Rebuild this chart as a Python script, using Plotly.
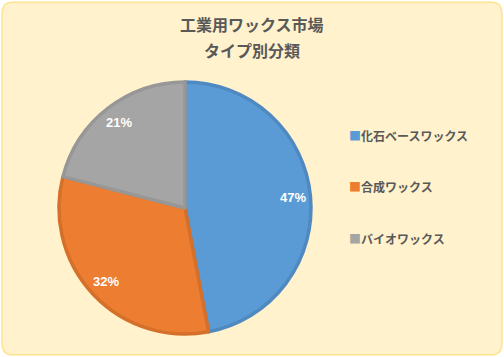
import math
import plotly.graph_objects as go

labels = ["化石ベースワックス", "合成ワックス", "バイオワックス"]
values = [47, 32, 21]
colors = ["#5B9BD5", "#ED7D31", "#A5A5A5"]
border_colors = ["#4F89C2", "#D4702A", "#979797"]
title_lines = ["工業用ワックス市場", "タイプ別分類"]

W, H = 504, 357
cx, cy, r = 185, 208, 126

fig = go.Figure(go.Pie(
    labels=labels,
    values=values,
    sort=False,
    direction="clockwise",
    rotation=0,
    marker=dict(colors=colors, line=dict(color=border_colors, width=3.5)),
    textinfo="none",
    domain=dict(x=[(cx - r) / W, (cx + r) / W], y=[(H - cy - r) / H, (H - cy + r) / H]),
    showlegend=False,
    hoverinfo="label+percent",
))

shapes = [dict(type="path", xref="paper", yref="paper",
               path="M 0.025,0.006 L 0.975,0.006 Q 0.996,0.006 0.996,0.04 L 0.996,0.96 Q 0.996,0.994 0.975,0.994 L 0.025,0.994 Q 0.004,0.994 0.004,0.96 L 0.004,0.04 Q 0.004,0.006 0.025,0.006 Z",
               fillcolor="#FFF2CC", line=dict(color="#FFE38F", width=1.5), layer="below")]

annotations = []

# percentage labels placed along each slice's mid-angle
total = sum(values)
acc = 0
for v in values:
    mid = (acc + v / 2) / total * 2 * math.pi
    acc += v
    lx = cx + 108 * math.sin(mid)
    ly = cy - 108 * math.cos(mid)
    annotations.append(dict(
        x=lx / W, y=1 - ly / H, xref="paper", yref="paper", xanchor="center", yanchor="middle",
        showarrow=False, text=f"<b>{round(v / total * 100)}%</b>",
        font=dict(size=13, color="white", family="Liberation Sans, Arial, sans-serif")))

ys = [135, 186, 238]
for lab, col, yy in zip(labels, colors, ys):
    annotations.append(dict(
        x=347 / W, y=1 - yy / H, xref="paper", yref="paper", xanchor="left", yanchor="middle",
        showarrow=False,
        text=f"<span style='color:{col}'>■</span><b>{lab}</b>",
        font=dict(size=12, color="#595959", family="Noto Sans CJK JP")))

for t, yy in zip(title_lines, [24, 50]):
    annotations.append(dict(
        x=0.5, y=1 - yy / H, xref="paper", yref="paper", xanchor="center", yanchor="middle",
        showarrow=False, text=f"<b>{t}</b>",
        font=dict(size=16, color="#595959", family="Noto Sans CJK JP")))

fig.update_layout(
    width=W, height=H,
    margin=dict(l=0, r=0, t=0, b=0),
    paper_bgcolor="white",
    plot_bgcolor="white",
    shapes=shapes,
    annotations=annotations,
)

fig.write_html("out.html", config={"displayModeBar": False},
               post_script="document.body.style.margin='0';document.body.style.overflow='hidden';")
